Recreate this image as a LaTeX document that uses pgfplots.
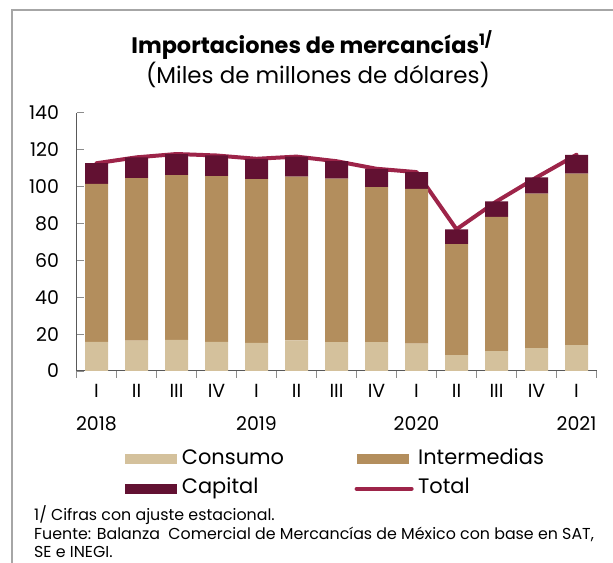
\documentclass[border=0pt]{standalone}
\usepackage{fontspec}
\setmainfont{Poppins}
\usepackage{pgfplots}
\pgfplotsset{compat=1.18}
\definecolor{consumo}{HTML}{D4C19C}
\definecolor{interm}{HTML}{B38E5D}
\definecolor{capital}{HTML}{621132}
\definecolor{total}{HTML}{9D2449}
\definecolor{framegray}{HTML}{A6A6A6}
\definecolor{axisgray}{HTML}{595959}
\definecolor{tickgray}{HTML}{8C8C8C}
\pgfplotsset{
  barleg/.style={legend image code/.code={\fill[##1] (0bp,-5bp) rectangle (52bp,5bp);}},
  lineleg/.style={legend image code/.code={\draw[##1] (0bp,0bp) -- (55bp,0bp);}},
}
\begin{document}
\begin{tikzpicture}[x=1bp,y=1bp]
\useasboundingbox (0,0) rectangle (613,563);
\draw[framegray, line width=1.2bp] (613,553) -- (12,553) -- (12,0);
\node[font=\bfseries\fontsize{22.5}{26}\selectfont] at (312,518) {Importaciones de mercancías\textsuperscript{1/}};
\node[font=\fontsize{23}{26}\selectfont] at (318,488) {(Miles de millones de dólares)};
\begin{axis}[
  at={(76.5bp,192bp)}, anchor=south west,
  scale only axis, width=520bp, height=258.3bp,
  ybar stacked, bar width=23bp,
  xmin=-0.5, xmax=12.5, ymin=0, ymax=140,
  axis lines=left, axis line style={-, axisgray, line width=1bp},
  tick align=inside, major tick length=7bp,
  tick style={tickgray, line width=0.8bp},
  x tick style={yshift=-7bp},
  ytick={0,20,...,140},
  xtick={-0.5,0.5,...,12.5},
  xticklabels={{I\\2018},{II},{III},{IV},{I\\2019},{II},{III},{IV},{I\\2020},{II},{III},{IV},{I\\2021},{}},
  xticklabel style={xshift=20bp, yshift=-10bp, align=center, font=\fontsize{19}{33}\selectfont, anchor=north},
  yticklabel style={xshift=-14bp, font=\fontsize{19}{22}\selectfont},
  /pgf/number format/assume math mode=true,
  legend style={at={(axis description cs:0.088,-0.285)}, anchor=north west, draw=none, fill=none,
    font=\fontsize{21}{24}\selectfont, legend columns=2,
    nodes={inner ysep=2.5bp, inner xsep=4.5bp, text height=15bp, text depth=5bp},
    /tikz/row sep=4.5bp,
    /tikz/every even column/.append style={column sep=66bp}},
  legend cell align=left,
]
\addplot[fill=consumo, draw=none, barleg] coordinates {
(0,15.8) (1,16.4) (2,16.8) (3,15.8) (4,15.3) (5,16.6) (6,15.7) (7,15.7) (8,14.8) (9,8.6) (10,10.8) (11,12.4) (12,14.0)};
\addlegendentry{Consumo}
\addplot[fill=interm, draw=none, barleg] coordinates {
(0,85.6) (1,88.1) (2,89.3) (3,89.8) (4,88.7) (5,88.8) (6,88.5) (7,83.9) (8,83.9) (9,60.2) (10,72.8) (11,83.8) (12,93.0)};
\addlegendentry{Intermedias}
\addplot[fill=capital, draw=none, barleg] coordinates {
(0,11.2) (1,11.3) (2,11.5) (3,11.2) (4,11.0) (5,10.8) (6,9.5) (7,10.0) (8,9.1) (9,8.0) (10,8.3) (11,8.7) (12,10.1)};
\addlegendentry{Capital}
\addplot[stack plots=false, sharp plot, total, line width=4bp, line cap=round, line join=round, mark=none, lineleg] coordinates {
(0,112.6) (1,115.8) (2,117.6) (3,116.8) (4,115.0) (5,116.2) (6,113.7) (7,109.6) (8,107.8) (9,76.8) (10,91.9) (11,104.9) (12,117.2)};
\addlegendentry{Total}
\end{axis}
\begin{scope}[font=\fontsize{15.9}{18}\selectfont]
\node[anchor=base west, inner sep=0] at (34,42) {1/ Cifras con ajuste estacional.};
\node[anchor=base west, inner sep=0] at (34,23) {Fuente: Balanza\ \ Comercial de Mercancías de México con base en SAT,};
\node[anchor=base west, inner sep=0] at (34,5) {SE e INEGI.};
\end{scope}
\end{tikzpicture}
\end{document}
